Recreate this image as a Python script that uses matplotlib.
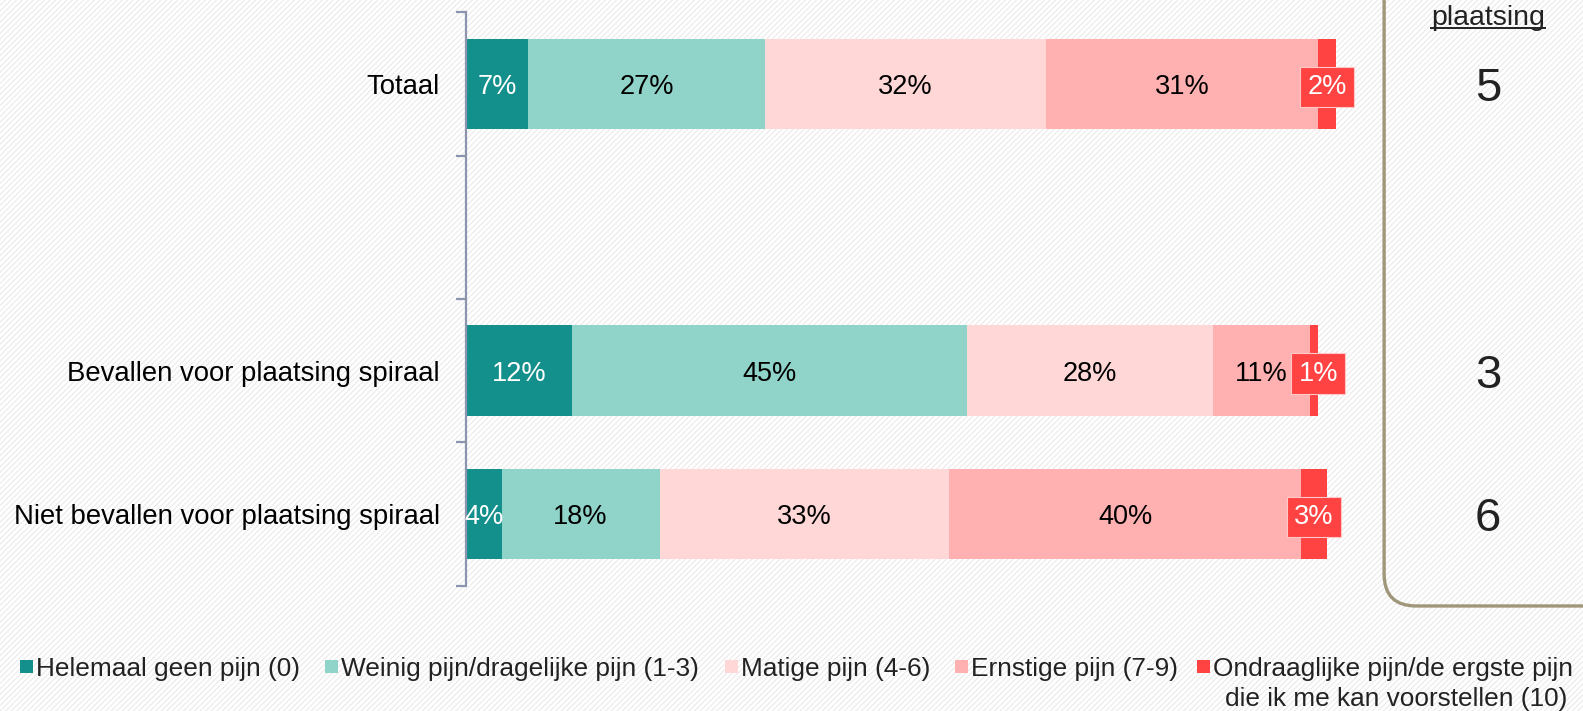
import numpy as np
import matplotlib
matplotlib.use('Agg')
import matplotlib.pyplot as plt
from matplotlib.patches import Rectangle, FancyBboxPatch
from matplotlib.lines import Line2D

plt.rcParams['font.family'] = ['Liberation Sans', 'DejaVu Sans']
plt.rcParams['hatch.linewidth'] = 0.8

# data
categories = ['Totaal', '', 'Bevallen voor plaatsing spiraal', 'Niet bevallen voor plaatsing spiraal']
series_names = ['Helemaal geen pijn (0)', 'Weinig pijn/dragelijke pijn (1-3)', 'Matige pijn (4-6)',
                'Ernstige pijn (7-9)', 'Ondraaglijke pijn/de ergste pijn\ndie ik me kan voorstellen (10)']
totaal = [7, 27, 32, 31, 2]
bevallen = [12, 45, 28, 11, 1]
niet_bevallen = [4, 18, 33, 40, 3]
plaatsing = [5, None, 3, 6]

colors = ['#14908C', '#8FD3C9', '#FFD7D7', '#FFB1B1', '#FF4242']
text_colors = ['white', 'black', 'black', 'black', 'white']

rows = [totaal, None, bevallen, niet_bevallen]

W, H = 1568, 704  # reference measured at this size
fig = plt.figure(figsize=(15.83, 7.11), dpi=100)

# light diagonal hatched background
fig.patches.append(Rectangle((0, 0), 1, 1, transform=fig.transFigure, facecolor='white',
                             edgecolor='#EAEAEA', hatch='//////', lw=0, zorder=-10))

ax = fig.add_axes([462 / W, 1 - 580 / H, 870 / W, 568 / H])
ax.set_facecolor('none')

fs = 19.8
for i, vals in enumerate(rows):
    if vals is None:
        continue
    left = 0
    for j, v in enumerate(vals):
        ax.barh(i, v, left=left, height=0.63, color=colors[j], lw=0)
        if j < 4:
            ax.text(left + v / 2, i, f'{v}%', ha='center', va='center_baseline', fontsize=19.5,
                    color=text_colors[j])
        else:
            x = max(left + v / 2, left + 1.0)
            ax.text(x, i, f'{v}%', ha='center', va='center_baseline', fontsize=19.5, color='white',
                    bbox=dict(boxstyle='square,pad=0.27', fc=colors[4], ec='#FFC8C8', lw=0.8))
        left += v

ax.set_xlim(0, 100)
ax.set_ylim(3.5, -0.5)
ax.set_xticks([])
for s in ['top', 'right', 'bottom']:
    ax.spines[s].set_visible(False)
ax.spines['left'].set_color('#8C94AE')
ax.spines['left'].set_linewidth(1.6)

ax.set_yticks(np.arange(-0.5, 4, 1.0))
ax.set_yticklabels([])
ax.tick_params(axis='y', which='major', length=7, width=1.6, color='#8C94AE', direction='out')
ax.set_yticks([0, 2, 3], minor=True)
ax.set_yticklabels([categories[0], categories[2], categories[3]], minor=True, fontsize=fs)
ax.tick_params(axis='y', which='minor', length=0, pad=19)

# rounded box with "plaatsing" values (rounding in inch units)
x0_in = 1371 / W * 15.83
y0_in = (1 - 600 / H) * 7.11
box = FancyBboxPatch((x0_in, y0_in), 3.0, 7.0, boxstyle='round,pad=0,rounding_size=0.32',
                     transform=fig.dpi_scale_trans, fc='none', ec='#A0967A', lw=2.4, zorder=5)
fig.patches.append(box)

xc = 1474 / W
t = fig.text(xc, 1 - 18 / H, 'plaatsing', ha='center', va='center', fontsize=20.5, color='#222222')
fig.canvas.draw()
bb = t.get_window_extent(fig.canvas.get_renderer()).transformed(fig.transFigure.inverted())
fig.lines.append(Line2D([bb.x0, bb.x1], [bb.y0 + 0.004, bb.y0 + 0.004], transform=fig.transFigure,
                        color='#222222', lw=1.4))

for i, p in enumerate(plaatsing):
    if p is None:
        continue
    yf = ax.transData.transform((0, i))[1] / fig.bbox.height
    fig.text(xc, yf, str(p), ha='center', va='center_baseline', fontsize=34, color='#222222')

# legend drawn manually
leg_x = [20, 322, 718, 946, 1186]
leg_y = 1 - 660 / H
lfs = 18.9
for j, name in enumerate(series_names):
    fig.patches.append(Rectangle((leg_x[j] / W, leg_y - 6.5 / H), 13 / W, 13 / H,
                                 transform=fig.transFigure, fc=colors[j], lw=0))
    if '\n' in name:
        l1, l2 = name.split('\n')
        fig.text((leg_x[j] + 16) / W, leg_y, l1, ha='left', va='center_baseline', fontsize=lfs, color='#222222')
        fig.text(1553 / W, 1 - 690 / H, l2, ha='right', va='center_baseline', fontsize=lfs, color='#222222')
    else:
        fig.text((leg_x[j] + 16) / W, leg_y, name, ha='left', va='center_baseline', fontsize=lfs, color='#222222')

fig.savefig('out.png', dpi=100)
